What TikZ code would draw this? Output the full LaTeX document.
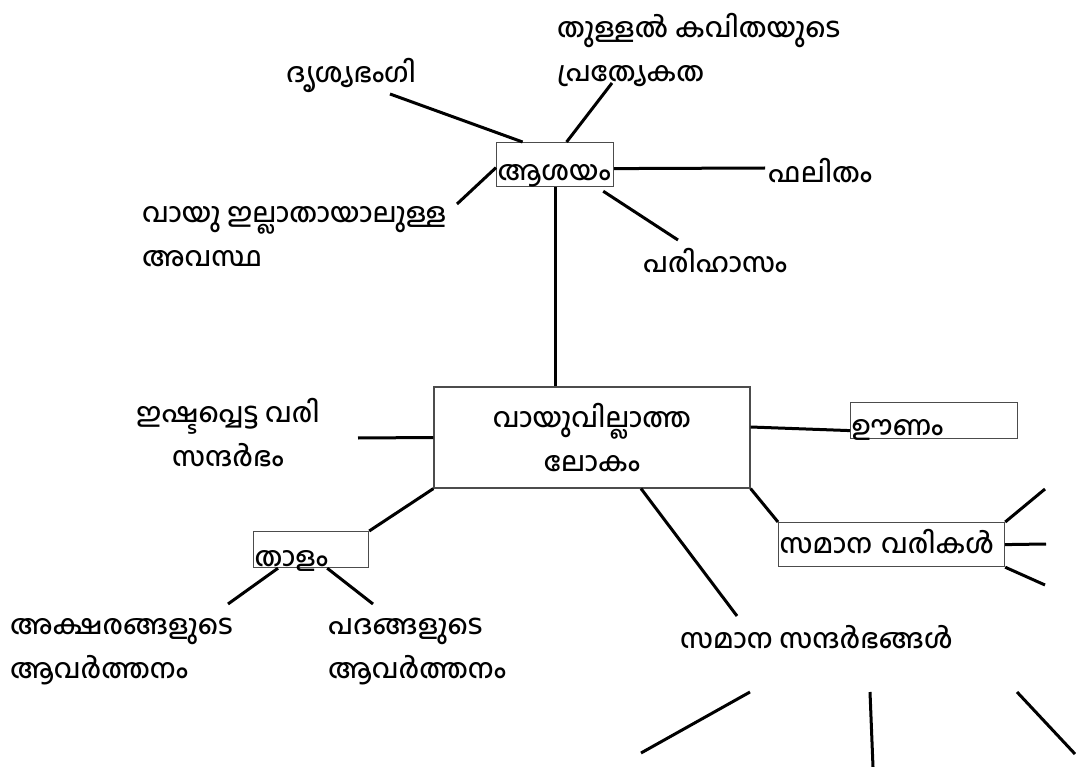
\documentclass[tikz,border=0pt]{standalone}
\usepackage{fontspec}
\newfontfamily\mlfont[Script=Malayalam, UprightFont={* Medium}]{Hind Kochi}
\usepackage{tikz}

\begin{document}
\begin{tikzpicture}[x=1pt,y=-1pt,
	lbl/.style={font=\mlfont\fontsize{27}{44}\selectfont, inner sep=0pt},
	tag/.style={lbl, draw=black!70, line width=1.2pt, anchor=north west, inner ysep=0pt, inner xsep=1pt, align=left},
	conn/.style={line width=3pt}]
\useasboundingbox (0,0) rectangle (1076,767);
\path (557,50) node[lbl, anchor=west, align=left] (thullal) {തുള്ളൽ കവിതയുടെ\\പ്രത്യേകത}
		(286,83) node[lbl, anchor=base west] (drisya) {ദൃശ്യഭംഗി}
		(768,183) node[lbl, anchor=base west] (phalitham) {ഫലിതം}
		(142,236.5) node[lbl, anchor=west, align=left] (vayu) {വായു ഇല്ലാതായാലുള്ള\\അവസ്ഥ}
		(643,273) node[lbl, anchor=base west] (parihasam) {പരിഹാസം}
		(496,142) node[tag, text width=115pt, text height=38pt, text depth=6pt] (asayam) {ആശയം}
		(592,437.5) node[lbl, draw=black!70, line width=1.2pt, minimum width=316pt, minimum height=101pt, align=center] (lokam) {വായുവില്ലാത്ത\\ലോകം}
		(228,433) node[lbl, align=center] (ishta) {ഇഷ്ടപ്പെട്ട വരി\\സന്ദർഭം}
		(850,402) node[tag, text width=165pt, text height=33pt, text depth=3pt] (uunam) {ഊണം}
		(253,531) node[tag, text width=113pt, text height=35pt, text depth=1pt] (thaalam) {താളം}
		(10,651.5) node[lbl, anchor=west, align=left] (akshara) {അക്ഷരങ്ങളുടെ\\ആവർത്തനം}
		(328,651.5) node[lbl, anchor=west, align=left] (padam) {പദങ്ങളുടെ\\ആവർത്തനം}
		(680,648) node[lbl, anchor=base west] (sandarbham) {സമാന സന്ദർഭങ്ങൾ}
		(778,522) node[tag, text width=224pt, text height=31pt, text depth=13pt] (varikal) {സമാന വരികൾ};
% free ends
\path (390,94) coordinate (drisya-end)
		(612,83) coordinate (thullal-end)
		(765,168) coordinate (phalitham-end)
		(457,204) coordinate (vayu-end)
		(678,240) coordinate (parihasam-end)
		(358,438) coordinate (ishta-end)
		(737,616) coordinate (sandarbham-end)
		(228,604) coordinate (akshara-end)
		(373,604) coordinate (padam-end)
		(1045,489) coordinate (vari-a)
		(1046,544) coordinate (vari-b)
		(1045,585) coordinate (vari-c)
		(750,692) coordinate (s1) (641,753) coordinate (s1')
		(870,692) coordinate (s2) (873,767) coordinate (s2')
		(1017,692) coordinate (s3) (1075,754) coordinate (s3');
\draw[conn] ([xshift=-32.5pt]asayam.north) -- (drisya-end);
\draw[conn] ([xshift=11.5pt]asayam.north) -- (thullal-end);
\draw[conn] ([yshift=-4pt]asayam.east) -- (phalitham-end);
\draw[conn] ([yshift=-3pt]asayam.west) -- (vayu-end);
\draw[conn] ([xshift=-11pt,yshift=-4pt]asayam.south east) -- (parihasam-end);
\draw[conn] (asayam.south) -- (asayam.south |- lokam.north);
\draw[conn] (ishta-end) -- (lokam.west);
\draw[conn] ([yshift=10.5pt]lokam.east) -- ([yshift=-10pt]uunam.west);
\draw[conn] (lokam.south west) -- (thaalam.north east);
\draw[conn] ([xshift=49pt]lokam.south) -- (sandarbham-end);
\draw[conn] (lokam.south east) -- (varikal.north west);
\draw[conn] ([xshift=25pt]thaalam.south west) -- (akshara-end);
\draw[conn] ([xshift=-42pt]thaalam.south east) -- (padam-end);
\draw[conn] (varikal.north east) -- (vari-a);
\draw[conn] (varikal.east) -- (vari-b);
\draw[conn] (varikal.south east) -- (vari-c);
\draw[conn] (s1) -- (s1');
\draw[conn] (s2) -- (s2');
\draw[conn] (s3) -- (s3');
\end{tikzpicture}
\end{document}
